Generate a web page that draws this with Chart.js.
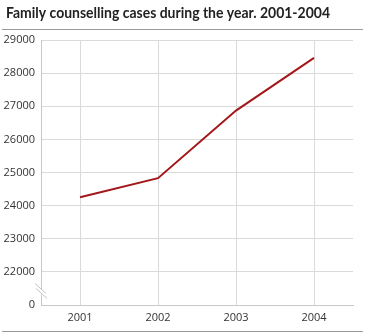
<!DOCTYPE html>
<html>
<head>
<meta charset="utf-8">
<script src="https://cdn.jsdelivr.net/npm/chart.js@4/dist/chart.umd.min.js"></script>
<style>
  html, body { margin: 0; padding: 0; background: #fff; }
  #wrap { width: 365px; height: 333px; position: relative; }
</style>
</head>
<body>
<div id="wrap"><canvas id="chart" width="365" height="333"></canvas></div>
<script>
const title = 'Family counselling cases during the year. 2001-2004';
const years = ['2001', '2002', '2003', '2004'];
const cases = [24250, 24830, 26870, 28460];
// the lowest tick stands for 0, the axis is broken above it
const axisMin = 21000;
const axisMax = 29000;

const FONT = '"Open Sans", "DejaVu Sans", sans-serif';
const TITLE_WIDTH = 324;

// title, rules above/below the plot, and the break on the y axis
const decorations = {
  id: 'decorations',
  afterDraw(chart) {
    const ctx = chart.ctx;
    const area = chart.chartArea;
    const y = chart.scales.y;
    ctx.save();
    ctx.fillStyle = '#222';
    ctx.font = 'bold 15px Lato, ' + FONT;
    ctx.textBaseline = 'alphabetic';
    const w = ctx.measureText(title).width;
    const sx = Math.min(1, TITLE_WIDTH / w);
    ctx.translate(6, 18);
    ctx.scale(sx, 1);
    ctx.fillText(title, 0, 0);
    ctx.restore();

    ctx.save();
    ctx.strokeStyle = '#9a9a9a';
    ctx.lineWidth = 1;
    ctx.beginPath();
    ctx.moveTo(2, 29.5); ctx.lineTo(363, 29.5);
    ctx.moveTo(2, 331.5); ctx.lineTo(363, 331.5);
    ctx.stroke();

    // axis break between 0 and the first real tick
    const mid = (y.getPixelForValue(axisMin) + y.getPixelForValue(axisMin + 1000)) / 2 + 3;
    const x = area.left;
    ctx.fillStyle = '#fff';
    ctx.beginPath();
    ctx.moveTo(x - 6, mid - 8);
    ctx.lineTo(x + 6, mid + 3);
    ctx.lineTo(x + 6, mid + 8);
    ctx.lineTo(x - 6, mid - 3);
    ctx.closePath();
    ctx.fill();
    ctx.strokeStyle = '#c4c4c4';
    ctx.beginPath();
    ctx.moveTo(x - 6, mid - 8); ctx.lineTo(x + 5, mid + 2);
    ctx.moveTo(x - 5, mid - 3); ctx.lineTo(x + 6, mid + 7);
    ctx.stroke();
    ctx.restore();
  },
};

new Chart(document.getElementById('chart'), {
  type: 'line',
  data: {
    labels: years,
    datasets: [{
      data: cases,
      borderColor: '#a3171b',
      borderWidth: 2,
      pointRadius: 0,
      tension: 0,
      fill: false,
    }],
  },
  options: {
    responsive: false,
    animation: false,
    layout: { padding: { top: 40, right: 12, left: 0, bottom: 0 } },
    plugins: {
      legend: { display: false },
      tooltip: { enabled: false },
    },
    scales: {
      x: {
        type: 'category',
        offset: true,
        grid: { color: '#dadada', drawTicks: false, offset: false },
        border: { color: '#c8c8c8' },
        ticks: { color: '#333', font: { family: FONT, size: 11 }, padding: 6, maxRotation: 0 },
        afterFit(scale) { scale.height = 28; },
      },
      y: {
        min: axisMin,
        max: axisMax,
        grid: { color: '#dadada', drawTicks: false },
        border: { color: '#c8c8c8' },
        ticks: {
          stepSize: 1000,
          color: '#333',
          font: { family: FONT, size: 11 },
          padding: 6,
          callback: (v) => (v === axisMin ? '0' : String(v)),
        },
        afterFit(scale) { scale.width = 41; },
      },
    },
  },
  plugins: [decorations],
});
</script>
</body>
</html>
